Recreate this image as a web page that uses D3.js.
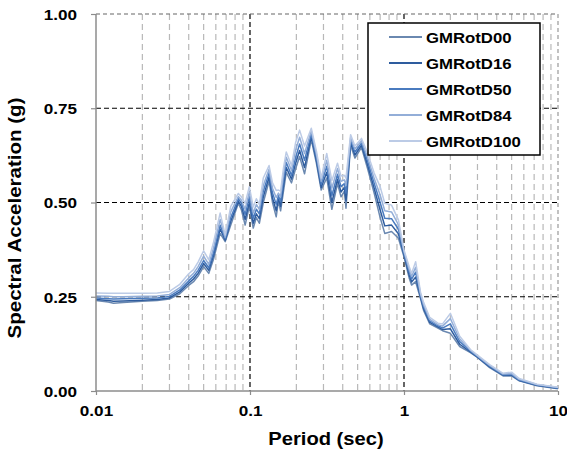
<!DOCTYPE html>
<html><head><meta charset="utf-8">
<script src="https://cdn.jsdelivr.net/npm/d3@7/dist/d3.min.js"></script>
<style>body{margin:0;background:#fff}svg{display:block}text{font-family:"Liberation Sans",Arial,sans-serif;font-weight:bold;fill:#000}</style>
</head><body><svg id="c" width="567" height="453"></svg>
<script>
const periods = [0.010,0.012,0.013,0.015,0.020,0.025,0.030,0.035,0.040,0.043,0.046,0.050,0.054,0.058,0.064,0.069,0.075,0.084,0.088,0.093,0.099,0.105,0.110,0.115,0.122,0.133,0.140,0.148,0.153,0.158,0.165,0.172,0.186,0.198,0.210,0.226,0.250,0.270,0.290,0.315,0.340,0.370,0.390,0.410,0.420,0.450,0.480,0.530,0.580,0.640,0.700,0.750,0.830,0.920,1.000,1.080,1.120,1.190,1.280,1.340,1.470,1.660,1.780,2.000,2.300,2.700,3.000,3.600,4.400,5.000,5.600,7.300,10.00];
const seriesNames = ["GMRotD00","GMRotD16","GMRotD50","GMRotD84","GMRotD100"];
const seriesColors = ["#6a88b0","#2e5c9e","#4a7bbf","#93aed8","#bccbe6"];
const gmRotD00 = [0.240,0.236,0.233,0.235,0.238,0.240,0.244,0.258,0.280,0.290,0.305,0.330,0.312,0.350,0.418,0.396,0.440,0.498,0.480,0.440,0.490,0.432,0.460,0.445,0.500,0.557,0.500,0.462,0.505,0.478,0.530,0.580,0.552,0.590,0.622,0.576,0.667,0.604,0.533,0.565,0.482,0.550,0.515,0.530,0.485,0.652,0.618,0.646,0.590,0.525,0.460,0.418,0.423,0.405,0.356,0.300,0.281,0.290,0.245,0.214,0.178,0.167,0.160,0.153,0.118,0.102,0.089,0.062,0.040,0.040,0.027,0.014,0.006];
const gmRotD16 = [0.243,0.240,0.238,0.239,0.241,0.243,0.247,0.263,0.286,0.297,0.312,0.338,0.320,0.360,0.430,0.400,0.450,0.503,0.490,0.455,0.500,0.445,0.470,0.457,0.515,0.568,0.512,0.478,0.511,0.490,0.545,0.593,0.562,0.605,0.638,0.593,0.675,0.612,0.540,0.580,0.500,0.562,0.528,0.540,0.505,0.659,0.626,0.652,0.600,0.538,0.480,0.438,0.440,0.417,0.361,0.308,0.289,0.302,0.250,0.219,0.182,0.170,0.163,0.165,0.124,0.104,0.090,0.064,0.042,0.042,0.028,0.015,0.007];
const gmRotD50 = [0.247,0.245,0.244,0.245,0.246,0.247,0.251,0.268,0.292,0.304,0.320,0.346,0.327,0.368,0.440,0.404,0.460,0.510,0.498,0.468,0.515,0.458,0.482,0.470,0.530,0.578,0.525,0.495,0.518,0.502,0.560,0.606,0.572,0.620,0.655,0.612,0.682,0.620,0.548,0.596,0.518,0.575,0.542,0.550,0.525,0.665,0.634,0.658,0.610,0.551,0.500,0.458,0.457,0.429,0.366,0.316,0.297,0.315,0.254,0.224,0.186,0.173,0.167,0.178,0.131,0.106,0.092,0.066,0.043,0.044,0.029,0.016,0.008];
const gmRotD84 = [0.252,0.251,0.250,0.250,0.251,0.252,0.256,0.274,0.300,0.312,0.330,0.358,0.336,0.380,0.455,0.408,0.475,0.516,0.506,0.482,0.528,0.472,0.495,0.482,0.545,0.588,0.538,0.513,0.525,0.515,0.575,0.620,0.585,0.640,0.673,0.630,0.690,0.628,0.556,0.612,0.538,0.590,0.556,0.560,0.545,0.672,0.642,0.664,0.620,0.564,0.520,0.478,0.475,0.441,0.370,0.323,0.304,0.328,0.258,0.229,0.190,0.176,0.172,0.192,0.138,0.108,0.093,0.068,0.045,0.046,0.031,0.017,0.009];
const gmRotD100 = [0.260,0.259,0.259,0.259,0.259,0.260,0.264,0.283,0.311,0.322,0.342,0.372,0.348,0.395,0.472,0.414,0.490,0.524,0.515,0.498,0.542,0.488,0.510,0.495,0.565,0.598,0.552,0.532,0.533,0.530,0.592,0.634,0.598,0.660,0.692,0.650,0.697,0.636,0.565,0.630,0.558,0.604,0.570,0.572,0.565,0.680,0.650,0.670,0.631,0.578,0.542,0.498,0.493,0.454,0.374,0.330,0.312,0.343,0.262,0.235,0.195,0.180,0.178,0.206,0.145,0.110,0.095,0.070,0.047,0.050,0.033,0.018,0.010];
const seriesValues = [gmRotD00,gmRotD16,gmRotD50,gmRotD84,gmRotD100];
const yTicks = [0,0.25,0.5,0.75,1];
const xTicks = [0.01,0.1,1,10];
const xTickLabels = ["0.01","0.1","1","10"];
const xTitle = "Period (sec)";
const yTitle = "Spectral Acceleration (g)";

const svg = d3.select("#c");
const L=96,R=558,T=14,B=391;
const x = d3.scaleLog().domain([0.01,10]).range([L,R]);
const y = d3.scaleLinear().domain([0,1]).range([B,T]);

function stretch(sel,f){sel.each(function(){const w=this.getComputedTextLength();d3.select(this).attr("textLength",w*f).attr("lengthAdjust","spacingAndGlyphs");});}

const minor=[];[0.01,0.1,1].forEach(d=>{for(let k=2;k<=9;k++)minor.push(+(d*k).toPrecision(3));});
svg.append("g").selectAll("line").data(minor).join("line")
 .attr("x1",d=>x(d)).attr("x2",d=>x(d)).attr("y1",T).attr("y2",B)
 .attr("stroke","#b8b8b8").attr("stroke-width",1.2).attr("stroke-dasharray","6,4");
svg.append("line").attr("x1",x(10)).attr("x2",x(10)).attr("y1",T).attr("y2",B).attr("stroke","#999").attr("stroke-width",1.2).attr("stroke-dasharray","4,3");
svg.append("g").selectAll("line").data([0.1,1]).join("line")
 .attr("x1",d=>x(d)).attr("x2",d=>x(d)).attr("y1",T).attr("y2",B)
 .attr("stroke","#000").attr("stroke-width",1.2).attr("stroke-dasharray","5,3");
svg.append("g").selectAll("line").data([0.25,0.5,0.75]).join("line")
 .attr("x1",L).attr("x2",R).attr("y1",d=>y(d)).attr("y2",d=>y(d))
 .attr("stroke","#000").attr("stroke-width",1.2).attr("stroke-dasharray","5,3");
svg.append("line").attr("x1",L).attr("x2",R).attr("y1",y(1)).attr("y2",y(1)).attr("stroke","#666").attr("stroke-width",1.2).attr("stroke-dasharray","4,3");

const line = d3.line().x((d,i)=>x(periods[i])).y(d=>y(d));
seriesValues.forEach((vals,i)=>{
 svg.append("path").datum(vals).attr("d",line).attr("fill","none")
  .attr("stroke",seriesColors[i]).attr("stroke-width",1.5).attr("stroke-linejoin","round");
});

const ya = svg.append("g").attr("transform",`translate(${L},0)`)
 .call(d3.axisLeft(y).tickValues(yTicks).tickFormat(d3.format(".2f")).tickSize(5).tickPadding(14));
const xa = svg.append("g").attr("transform",`translate(0,${B})`)
 .call(d3.axisBottom(x).tickValues(xTicks).tickFormat((d,i)=>xTickLabels[i]).tickSize(4).tickPadding(10));
[ya,xa].forEach(a=>{
 a.select(".domain").attr("stroke","#8c8c8c").attr("stroke-width",1.5);
 a.selectAll(".tick line").attr("stroke","#8c8c8c").attr("stroke-width",1.2);
 a.selectAll("text").attr("font-size",15).attr("font-family","Liberation Sans, Arial, sans-serif").attr("font-weight","bold").attr("fill","#000");
});
ya.selectAll("text").attr("dy","0.36em");
ya.select(".domain").attr("d",`M0,${T}V${B}`);
xa.select(".domain").attr("d",`M${L},0H${R}`);
stretch(ya.selectAll("text"),1.14);
stretch(xa.selectAll("text"),1.14);

const xt = svg.append("text").attr("x",326).attr("y",445).attr("text-anchor","middle").attr("font-size",18).text(xTitle);
stretch(xt,1.12);
const yt = svg.append("text").attr("transform","translate(21,218) rotate(-90)").attr("text-anchor","middle").attr("font-size",18).text(yTitle);
stretch(yt,1.14);

const lg = svg.append("g");
lg.append("rect").attr("x",368).attr("y",23).attr("width",172).attr("height",132).attr("fill","#fff").attr("stroke","#000").attr("stroke-width",1.5);
seriesNames.forEach((n,i)=>{
 const yy = 37+i*26;
 lg.append("line").attr("x1",389).attr("x2",422).attr("y1",yy).attr("y2",yy).attr("stroke",seriesColors[i]).attr("stroke-width",2);
 const t = lg.append("text").attr("x",426).attr("y",yy+5.5).attr("font-size",15.5).text(n);
 stretch(t,1.08);
});
</script></body></html>
